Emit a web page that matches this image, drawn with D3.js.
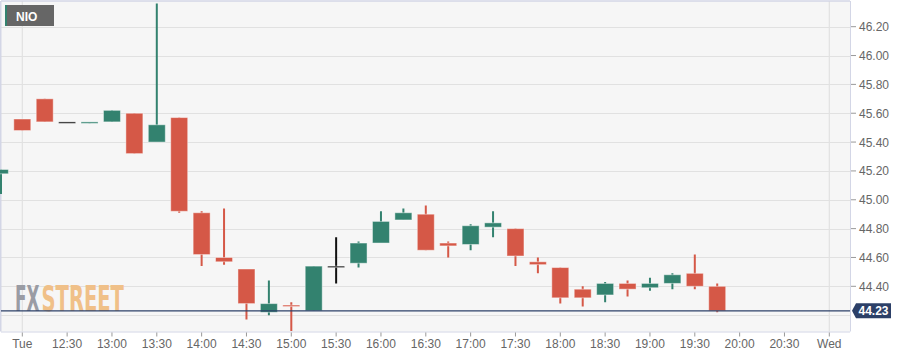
<!DOCTYPE html>
<html><head><meta charset="utf-8">
<script src="https://cdn.jsdelivr.net/npm/d3@7/dist/d3.min.js"></script>
<style>
html,body{margin:0;padding:0;background:#fff;}
svg{display:block;font-family:"Liberation Sans",Arial,sans-serif;}
</style></head>
<body>
<svg id="c" width="916" height="357"></svg>
<script>
// ---- data ----
const symbol = "NIO";
const times = ["11:45","12:00","12:15","12:30","12:45","13:00","13:15","13:30","13:45","14:00","14:15","14:30","14:45","15:00","15:15","15:30","15:45","16:00","16:15","16:30","16:45","17:00","17:15","17:30","17:45","18:00","18:15","18:30","18:45","19:00","19:15","19:30","19:45"];
const opens  = [45.18,45.56,45.70,45.54,45.53,45.54,45.60,45.40,45.57,44.91,44.60,44.52,44.22,44.27,44.23,44.54,44.56,44.70,44.86,44.90,44.70,44.69,44.81,44.80,44.57,44.53,44.38,44.34,44.42,44.39,44.42,44.49,44.40];
const highs  = [45.21,45.56,45.70,45.54,45.54,45.62,45.60,46.36,45.57,44.92,44.94,44.52,44.44,44.29,44.54,44.74,44.71,44.92,44.94,44.96,44.71,44.83,44.92,44.80,44.60,44.53,44.40,44.43,44.44,44.46,44.49,44.62,44.42];
const lows   = [45.04,45.48,45.54,45.54,45.53,45.54,45.32,45.40,44.91,44.54,44.55,44.17,44.20,44.09,44.23,44.42,44.53,44.70,44.86,44.65,44.60,44.65,44.74,44.54,44.49,44.28,44.26,44.29,44.33,44.37,44.38,44.38,44.22];
const closes = [45.21,45.48,45.54,45.54,45.54,45.62,45.32,45.52,44.92,44.62,44.57,44.28,44.28,44.26,44.54,44.54,44.70,44.85,44.91,44.65,44.68,44.82,44.84,44.61,44.55,44.32,44.32,44.42,44.38,44.42,44.48,44.40,44.23];
const lastPrice = 44.23;
const xTickTimes  = ["12:00","12:30","13:00","13:30","14:00","14:30","15:00","15:30","16:00","16:30","17:00","17:30","18:00","18:30","19:00","19:30","20:00","20:30","21:00"];
const xTickLabels = ["Tue","12:30","13:00","13:30","14:00","14:30","15:00","15:30","16:00","16:30","17:00","17:30","18:00","18:30","19:00","19:30","20:00","20:30","Wed"];
const dayBoundaries = ["12:00","21:00"];
const yTicks = [44.4,44.6,44.8,45.0,45.2,45.4,45.6,45.8,46.0,46.2];
const yGrid  = [44.2,44.4,44.6,44.8,45.0,45.2,45.4,45.6,45.8,46.0,46.2];

// ---- layout ----
const svg = d3.select("#c");
const P = {l:1, r:850, t:1, b:331.5};
const toMin = s => { const [h,m] = s.split(":").map(Number); return (h-12)*60+m; };
const x = d3.scaleLinear().domain([0,540]).range([22.3,829.3]);
const y = d3.scaleLinear().domain([44.4,46.2]).range([286.3,26.7]);

const UP="#33826f", DN="#d55847", FLAT="#111";

// background
svg.append("rect").attr("x",P.l).attr("y",P.t).attr("width",P.r-P.l).attr("height",P.b-P.t).attr("fill","#f6f6f6");

svg.append("defs").append("clipPath").attr("id","clip").append("rect")
  .attr("x",0).attr("y",P.t).attr("width",P.r).attr("height",P.b-P.t);

// gridlines
svg.append("g").selectAll("line").data(yGrid).join("line")
  .attr("x1",P.l).attr("x2",P.r).attr("y1",d=>Math.round(y(d))+0.5).attr("y2",d=>Math.round(y(d))+0.5)
  .attr("stroke","#e1e1e1").attr("stroke-width",1.2);
svg.append("g").selectAll("line").data(dayBoundaries).join("line")
  .attr("x1",d=>x(toMin(d))).attr("x2",d=>x(toMin(d))).attr("y1",P.t).attr("y2",P.b)
  .attr("stroke","#e1e1e1").attr("stroke-width",1.2);

// watermark (scaled horizontally to fit)
const wmFont = "'Liberation Sans Narrow','DejaVu Sans Condensed',sans-serif";
function wmText(str, x0, w, fill){
  const g = svg.append("g");
  const t = g.append("text").attr("x",0).attr("y",0).attr("font-family",wmFont)
    .attr("font-weight","bold").attr("font-size",35).attr("fill",fill).text(str);
  const nat = t.node().getComputedTextLength();
  g.attr("transform",`translate(${x0},311) scale(${w/nat},1)`);
}
wmText("FX",15,24.5,"#9a9ca4");
wmText("STREET",41.5,82.5,"#f0c088");

// border
svg.append("line").attr("x1",P.l).attr("x2",P.r).attr("y1",1).attr("y2",1).attr("stroke","#d3d6e6").attr("stroke-width",1.5);
svg.append("line").attr("x1",0.75).attr("x2",0.75).attr("y1",P.t).attr("y2",P.b).attr("stroke","#d3d6e6").attr("stroke-width",1.5);
svg.append("line").attr("x1",P.r+0.5).attr("x2",P.r+0.5).attr("y1",P.t).attr("y2",P.b).attr("stroke","#d3d6e6").attr("stroke-width",1);
svg.append("line").attr("x1",P.l).attr("x2",P.r).attr("y1",P.b+0.5).attr("y2",P.b+0.5).attr("stroke","#d3d6e6").attr("stroke-width",1);

// candles
const data = times.map((t,i)=>({t:toMin(t),o:opens[i],h:highs[i],l:lows[i],c:closes[i]}));
const col = d => d.c>d.o?UP:(d.c<d.o?DN:FLAT);
const cg = svg.append("g").attr("clip-path","url(#clip)");
const bw = 17;
cg.selectAll("line.w").data(data).join("line").attr("class","w")
  .attr("x1",d=>Math.max(1,x(d.t))).attr("x2",d=>Math.max(1,x(d.t))).attr("y1",d=>y(d.h)).attr("y2",d=>y(d.l))
  .attr("stroke",col).attr("stroke-width",2);
cg.selectAll("rect.b").data(data).join("rect").attr("class","b")
  .attr("x",d=>x(d.t)-bw/2).attr("width",bw)
  .attr("y",d=>Math.min(y(d.o),y(d.c)))
  .attr("height",d=>Math.max(1.5,Math.abs(y(d.o)-y(d.c))))
  .attr("fill",col).attr("stroke","rgba(255,255,255,0.45)").attr("stroke-width",1);

// last price line
svg.append("line").attr("x1",P.l).attr("x2",P.r).attr("y1",y(lastPrice)).attr("y2",y(lastPrice))
  .attr("stroke","#2c4068").attr("stroke-width",1.3);

// y axis
const ya = svg.append("g");
ya.selectAll("line").data(yTicks).join("line")
  .attr("x1",P.r+1).attr("x2",P.r+6).attr("y1",d=>y(d)).attr("y2",d=>y(d)).attr("stroke","#999");
ya.selectAll("text").data(yTicks).join("text")
  .attr("x",859).attr("y",d=>y(d)+4.5).attr("font-size",12).attr("fill","#666").text(d=>d.toFixed(2));

// last price label
const ly = y(lastPrice);
svg.append("path").attr("d",`M852,${ly} L856,${ly-7.5} L891,${ly-7.5} L891,${ly+7.5} L856,${ly+7.5} Z`).attr("fill","#2c4068");
svg.append("text").attr("x",873.5).attr("y",ly+4.5).attr("text-anchor","middle").attr("font-size",12)
  .attr("font-weight","bold").attr("fill","#fff").text(lastPrice.toFixed(2));

// x axis
const xa = svg.append("g");
xa.selectAll("line").data(xTickTimes).join("line")
  .attr("x1",d=>x(toMin(d))).attr("x2",d=>x(toMin(d))).attr("y1",P.b+1).attr("y2",P.b+5).attr("stroke","#999");
xa.selectAll("text").data(xTickTimes).join("text")
  .attr("x",d=>x(toMin(d))).attr("y",348).attr("text-anchor","middle").attr("font-size",12).attr("fill","#666")
  .text((d,i)=>xTickLabels[i]);

// symbol label
svg.append("rect").attr("x",5).attr("y",5).attr("width",49).attr("height",21).attr("fill","#666");
svg.append("rect").attr("x",5).attr("y",5).attr("width",2).attr("height",21).attr("fill",UP);
svg.append("text").attr("x",16).attr("y",20.5).attr("font-size",12).attr("font-weight","bold").attr("fill","#fff").text(symbol);
</script>
</body></html>
